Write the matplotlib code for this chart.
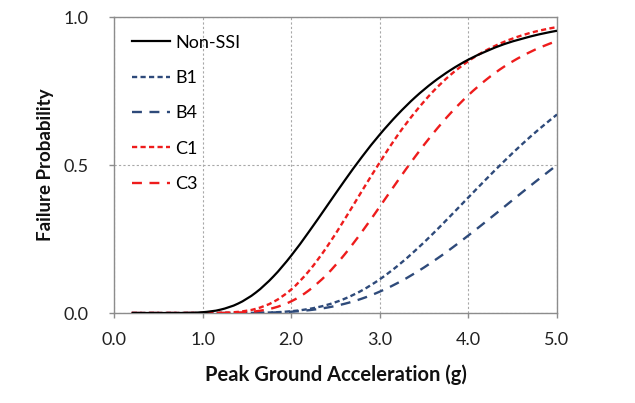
import matplotlib
matplotlib.use("Agg")
import matplotlib.pyplot as plt
from matplotlib.path import Path
from matplotlib.patches import PathPatch
from matplotlib.lines import Line2D

pga = [0.2, 0.4, 0.6, 0.8, 1.0, 1.2, 1.4, 1.6, 1.8, 2.0, 2.2, 2.4, 2.6, 2.8,
       3.0, 3.2, 3.4, 3.6, 3.8, 4.0, 4.2, 4.4, 4.6, 4.8, 5.0]
non_ssi = [0.0, 0.0, 0.0, 0.0003, 0.0026, 0.0112, 0.0318, 0.0689, 0.1237, 0.1937,
           0.2745, 0.360, 0.446, 0.528, 0.603, 0.670, 0.729, 0.779, 0.821, 0.856,
           0.884, 0.908, 0.926, 0.9415, 0.9536]
b1 = [0.0, 0.0, 0.0, 0.0, 0.0, 0.0, 0.0001, 0.0006, 0.0022, 0.006, 0.0137, 0.027,
      0.0477, 0.0765, 0.1139, 0.159, 0.211, 0.268, 0.3287, 0.3905, 0.452, 0.5117,
      0.5686, 0.6217, 0.6706]
b4 = [0.0, 0.0, 0.0, 0.0, 0.0, 0.0, 0.0001, 0.0006, 0.0018, 0.0044, 0.0095, 0.018,
      0.0309, 0.0488, 0.0723, 0.1012, 0.1353, 0.174, 0.2165, 0.262, 0.3093, 0.3575,
      0.406, 0.4536, 0.5]
c1 = [0.0, 0.0, 0.0, 0.0, 0.0001, 0.0007, 0.0038, 0.014, 0.0375, 0.0794, 0.1419,
      0.222, 0.315, 0.413, 0.509, 0.600, 0.679, 0.748, 0.805, 0.851, 0.8874,
      0.9157, 0.9375, 0.954, 0.966]
c3 = [0.0, 0.0, 0.0, 0.0, 0.0, 0.0002, 0.0014, 0.0057, 0.017, 0.0394, 0.0765,
      0.1294, 0.1967, 0.275, 0.3594, 0.4455, 0.5286, 0.606, 0.6755, 0.736, 0.788,
      0.8317, 0.867, 0.896, 0.919]

series_labels = ["Non-SSI", "B1", "B4", "C1", "C3"]
x_ticks = [0.0, 1.0, 2.0, 3.0, 4.0, 5.0]
y_ticks = [0.0, 0.5, 1.0]

FONT = ["Lato", "DejaVu Sans"]
plt.rcParams['font.family'] = FONT


def smooth_path(xs, ys):
    """Excel-style smoothed line: Bezier segments through the given points."""
    pts = list(zip(xs, ys))
    n = len(pts)
    verts = [pts[0]]
    codes = [Path.MOVETO]
    for i in range(n - 1):
        p0 = pts[i - 1] if i > 0 else pts[i]
        p1 = pts[i]
        p2 = pts[i + 1]
        p3 = pts[i + 2] if i + 2 < n else pts[i + 1]
        c1 = (p1[0] + (p2[0] - p0[0]) / 6, p1[1] + (p2[1] - p0[1]) / 6)
        c2 = (p2[0] - (p3[0] - p1[0]) / 6, p2[1] - (p3[1] - p1[1]) / 6)
        verts += [c1, c2, p2]
        codes += [Path.CURVE4] * 3
    return Path(verts, codes)


fig = plt.figure(figsize=(6.35, 4.03), dpi=100)
ax = fig.add_axes([114/635, 1 - 313/403, (557-114)/635, (313-17)/403])

navy = "#2E4A7A"
red = "#EE1C1C"
short = (0, (2.2, 1.4))
long_ = (0, (4.2, 3.2))
styles = [
    (non_ssi, "black", "-", 1.6, 5),
    (b1, navy, short, 1.7, 4),
    (b4, navy, long_, 1.7, 4),
    (c1, red, short, 1.7, 4),
    (c3, red, long_, 1.7, 4),
]
handles = []
for (vals, col, ls, lw, z), lab in zip(styles, series_labels):
    patch = PathPatch(smooth_path(pga, vals), fill=False, edgecolor=col, lw=lw,
                      linestyle=ls, zorder=z, joinstyle="round", capstyle="butt")
    ax.add_patch(patch)
    handles.append(Line2D([], [], color=col, lw=lw, linestyle=ls, label=lab))

ax.set_xlim(0, 5)
ax.set_ylim(0, 1)
ax.set_xticks(x_ticks)
ax.set_xticklabels([f"{v:.1f}" for v in x_ticks])
ax.set_yticks(y_ticks)
ax.set_yticklabels([f"{v:.1f}" for v in y_ticks])
ax.grid(True, color="#A8A8A8", lw=0.8, linestyle=(0, (2, 2)))
ax.set_axisbelow(True)
for s in ax.spines.values():
    s.set_color("#8C8C8C")
    s.set_linewidth(1.0)
ax.tick_params(axis="both", colors="#8C8C8C", labelcolor="#222222",
               length=3.6, width=1.0, labelsize=13)
ax.tick_params(axis="x", pad=10)
ax.tick_params(axis="y", pad=14.5)

ax.set_xlabel("Peak Ground Acceleration (g)", fontsize=14.5, fontweight="bold",
              labelpad=12, color="#111111")
ax.set_ylabel("Failure Probability", fontsize=13.5, fontweight="bold",
              labelpad=7, color="#111111")

leg = ax.legend(handles=handles, loc="upper left", bbox_to_anchor=(0.025, 0.965),
                frameon=False, fontsize=13, handlelength=2.1, handletextpad=0.28,
                labelspacing=1.07, borderaxespad=0)

fig.savefig("out.png", dpi=100)
